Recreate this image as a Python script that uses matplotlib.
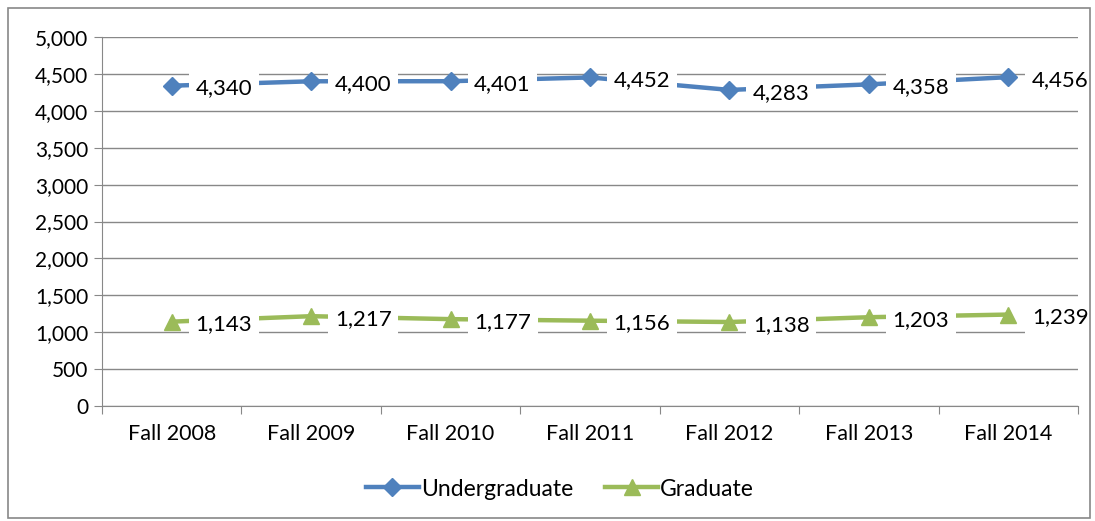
import matplotlib
matplotlib.use("Agg")
import matplotlib.pyplot as plt
from matplotlib.patches import Rectangle

categories = ["Fall 2008", "Fall 2009", "Fall 2010", "Fall 2011", "Fall 2012", "Fall 2013", "Fall 2014"]
undergrad = [4340, 4400, 4401, 4452, 4283, 4358, 4456]
graduate = [1143, 1217, 1177, 1156, 1138, 1203, 1239]
yticks = [0, 500, 1000, 1500, 2000, 2500, 3000, 3500, 4000, 4500, 5000]

plt.rcParams['font.family'] = ['Lato', 'DejaVu Sans']

fig = plt.figure(figsize=(10.95, 5.21), dpi=100)
fig.patches.append(Rectangle((8/1095, 3/521), 1082/1095, 510/521, transform=fig.transFigure,
                             fill=False, edgecolor='#888888', linewidth=1.2))
ax = fig.add_axes([102/1095, 1-406/521, 976/1095, 369/521])

x = list(range(len(categories)))
blue = '#4F81BD'
green = '#9BBB59'
ax.plot(x, undergrad, color=blue, lw=3.2, marker='D', ms=9, label='Undergraduate', zorder=3)
ax.plot(x, graduate, color=green, lw=3.2, marker='^', ms=11, label='Graduate', zorder=3)

for series in (undergrad, graduate):
    for xi, v in zip(x, series):
        ax.annotate(f"{v:,}", (xi, v), xytext=(17, -2), textcoords='offset points', ha='left', va='center',
                    fontsize=16, bbox=dict(boxstyle='square,pad=0.3', fc='white', ec='none'), zorder=4)

ax.set_xlim(-0.5, len(categories) - 0.5)
ax.set_ylim(0, 5000)
ax.set_yticks(yticks)
ax.set_yticklabels([f"{t:,}" for t in yticks], fontsize=15)
ax.yaxis.grid(True, color='#888888', lw=1)
ax.set_axisbelow(True)
ax.set_xticks([i - 0.5 for i in range(len(categories) + 1)])
ax.set_xticklabels([])
ax.set_xticks(x, minor=True)
ax.set_xticklabels(categories, minor=True, fontsize=15.5)
ax.tick_params(axis='x', which='minor', length=0, pad=13)
ax.tick_params(axis='x', which='major', length=6, color='#888888')
ax.tick_params(axis='y', length=6, color='#888888', pad=4)
for s in ['top', 'right']:
    ax.spines[s].set_visible(False)
ax.spines['left'].set_color('#888888')
ax.spines['bottom'].set_color('#888888')

fig.legend(loc='center', bbox_to_anchor=(560/1095, 1-489/521), ncol=2, frameon=False,
           fontsize=16.5, handlelength=2.3, columnspacing=1.4, handletextpad=0.1)

fig.savefig('out.png', dpi=100)
